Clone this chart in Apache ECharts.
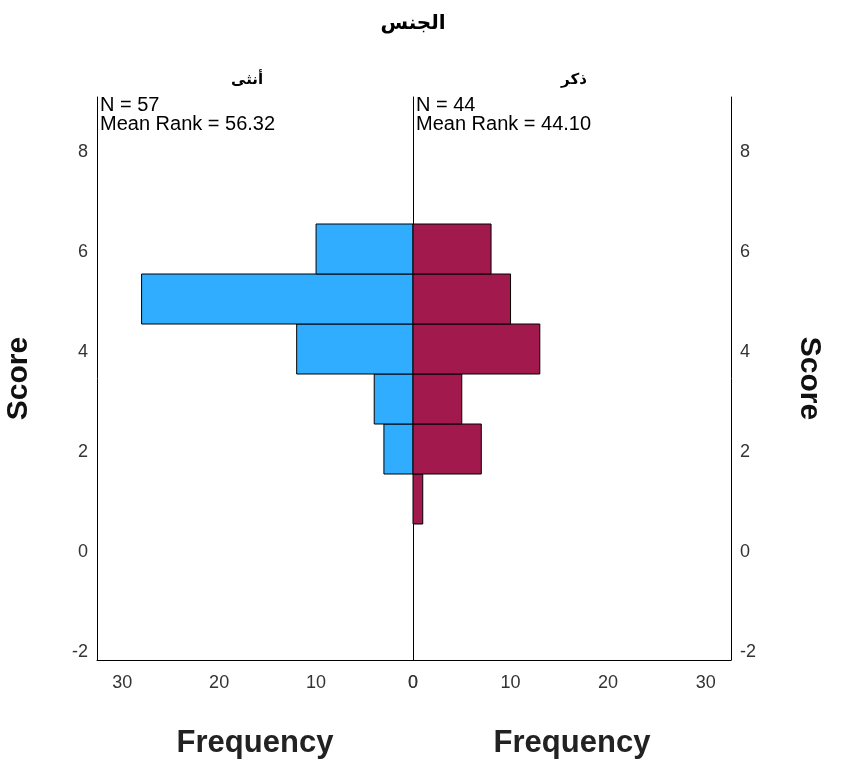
<!DOCTYPE html>
<html>
<head>
<meta charset="utf-8">
<script src="https://cdn.jsdelivr.net/npm/echarts@6/dist/echarts.min.js"></script>
<style>html,body{margin:0;padding:0;background:#fff}#chart{width:846px;height:766px}</style>
</head>
<body>
<div id="chart"></div>
<script>
// ---- data ----
const binStarts = [0.56, 1.56, 2.56, 3.56, 4.56, 5.56];
const binWidth = 1;
const femaleCounts = [0, 3, 4, 12, 28, 10];
const maleCounts = [1, 7, 5, 13, 10, 8];
const yTicks = [-2, 0, 2, 4, 6, 8];
const xTicks = [0, 10, 20, 30];
const groupTitle = 'الجنس';
const femaleLabel = 'أنثى';
const maleLabel = 'ذكر';
const femaleStats = ['N = 57', 'Mean Rank = 56.32'];
const maleStats = ['N = 44', 'Mean Rank = 44.10'];

const FONT = 'Arial, "Liberation Sans", "DejaVu Sans", sans-serif';
const YMIN = -2.16, YMAX = 9.1, XMAX = 32.6;

function toData(counts) {
  return counts.map((c, i) => [binStarts[i], binStarts[i] + binWidth, c]).filter(d => d[2] > 0);
}
function makeRender(color) {
  return function (params, api) {
    const lo = api.value(0), hi = api.value(1), c = api.value(2);
    const p1 = api.coord([0, hi]);
    const p2 = api.coord([c, lo]);
    return {
      type: 'rect',
      shape: { x: Math.min(p1[0], p2[0]), y: p1[1], width: Math.abs(p2[0] - p1[0]), height: p2[1] - p1[1] },
      style: { fill: color, stroke: '#000', lineWidth: 1 }
    };
  };
}

const axisLine = { show: true, onZero: false, lineStyle: { color: '#000', width: 1 } };
const yLabel = { color: '#333', fontSize: 18, fontFamily: FONT, customValues: yTicks, margin: 9 };
const xLabel = { color: '#333', fontSize: 18, fontFamily: FONT, customValues: xTicks, margin: 14 };
const xName = { fontSize: 31, fontWeight: 'bold', color: '#222', fontFamily: FONT };
const yName = { fontSize: 30, fontWeight: 'bold', color: '#111', fontFamily: FONT };

function txt(text, x, y, size, weight, align) {
  return { type: 'text', x: x, y: y, z: 10,
    style: { text: text, fontSize: size, fontWeight: weight, fill: '#000', fontFamily: FONT, align: align, verticalAlign: 'top', lineHeight: 19 } };
}

const chart = echarts.init(document.getElementById('chart'), null, { renderer: 'canvas' });
chart.setOption({
  animation: false,
  backgroundColor: '#fff',
  graphic: [
    txt(groupTitle, 413, 14, 20, 'bold', 'center'),
    txt(femaleLabel, 247, 70, 15, 'bold', 'center'),
    txt(maleLabel, 574, 70, 15, 'bold', 'center'),
    txt(femaleStats.join('\n'), 100, 96, 20, 'normal', 'left'),
    txt(maleStats.join('\n'), 416, 96, 20, 'normal', 'left')
  ],
  grid: [
    { left: 97, right: 433, top: 97, bottom: 106 },
    { left: 413, right: 115, top: 97, bottom: 106 }
  ],
  xAxis: [
    { gridIndex: 0, type: 'value', inverse: true, min: 0, max: XMAX, axisLine: axisLine, axisTick: { show: false }, splitLine: { show: false },
      axisLabel: xLabel, name: 'Frequency', nameLocation: 'middle', nameGap: 68, nameTextStyle: xName },
    { gridIndex: 1, type: 'value', min: 0, max: XMAX, axisLine: axisLine, axisTick: { show: false }, splitLine: { show: false },
      axisLabel: xLabel, name: 'Frequency', nameLocation: 'middle', nameGap: 68, nameTextStyle: xName }
  ],
  yAxis: [
    { gridIndex: 0, type: 'value', position: 'left', min: YMIN, max: YMAX, axisLine: axisLine, axisTick: { show: false }, splitLine: { show: false },
      axisLabel: yLabel, name: 'Score', nameLocation: 'middle', nameGap: 63, nameTextStyle: yName },
    { gridIndex: 1, type: 'value', position: 'right', min: YMIN, max: YMAX, axisLine: axisLine, axisTick: { show: false }, splitLine: { show: false },
      axisLabel: yLabel, name: 'Score', nameLocation: 'middle', nameGap: 63, nameRotate: -90, nameTextStyle: yName },
    { gridIndex: 1, type: 'value', position: 'left', min: YMIN, max: YMAX, axisLine: axisLine, axisTick: { show: false }, splitLine: { show: false },
      axisLabel: { show: false } }
  ],
  series: [
    { type: 'custom', xAxisIndex: 0, yAxisIndex: 0, renderItem: makeRender('#31adff'), data: toData(femaleCounts), encode: { x: 2, y: [0, 1] }, z: 2 },
    { type: 'custom', xAxisIndex: 1, yAxisIndex: 1, renderItem: makeRender('#a2194e'), data: toData(maleCounts), encode: { x: 2, y: [0, 1] }, z: 2 }
  ]
});
</script>
</body>
</html>
